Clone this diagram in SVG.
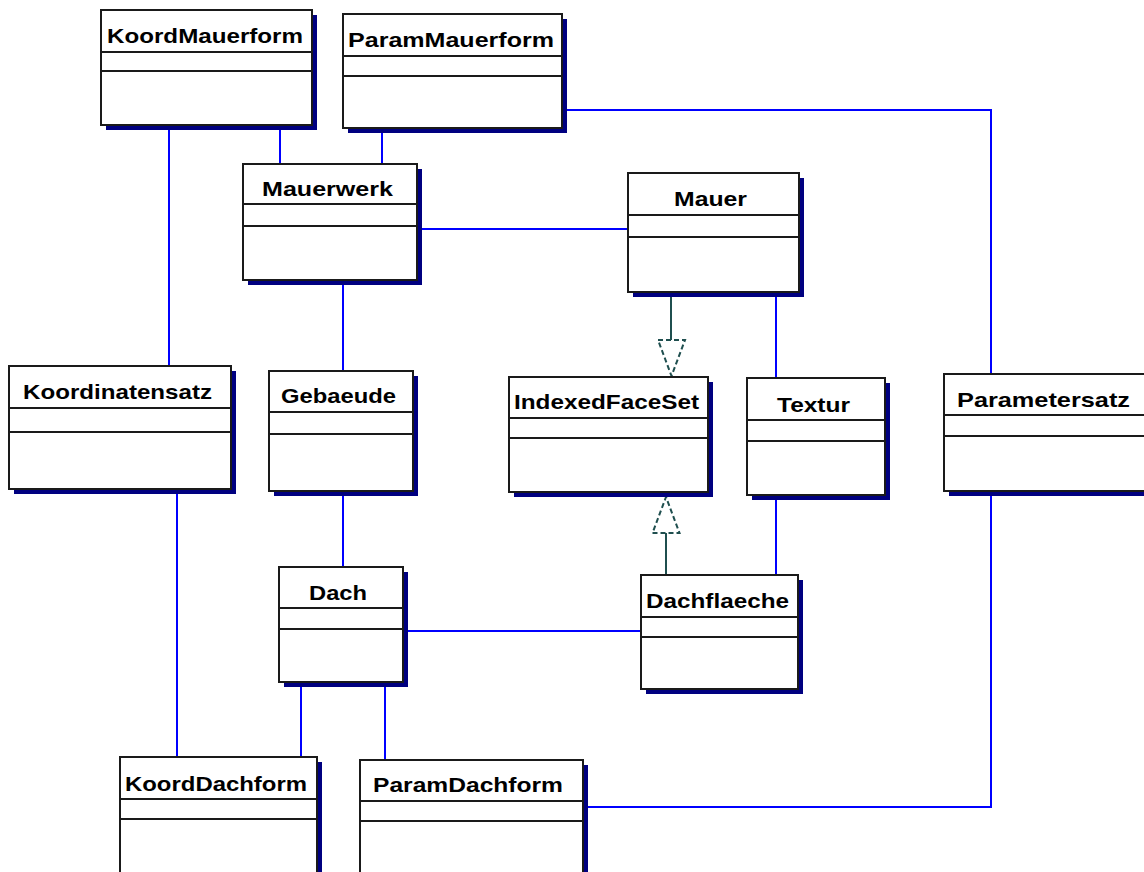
<svg xmlns="http://www.w3.org/2000/svg" width="1144" height="872" viewBox="0 0 1144 872">
<style>
.sh{fill:#000080}
.bx{fill:#fff;stroke:#1a1a1a;stroke-width:2}
.ln{stroke:#1a1a1a;stroke-width:2}
.t{font-family:"Liberation Sans",Arial,sans-serif;font-weight:bold;font-size:21px;fill:#000}
.c{stroke:#0000ff;stroke-width:2;fill:none}
.g{stroke:#1f4f4f;stroke-width:2;fill:none}
.tri{fill:#fff;stroke:#1f4f4f;stroke-width:2;stroke-dasharray:5 3}
</style>
<rect width="1144" height="872" fill="#fff"/>
<g id="connectors">
<line class="c" x1="169" y1="130" x2="169" y2="366"/>
<line class="c" x1="280" y1="130" x2="280" y2="164"/>
<line class="c" x1="382" y1="133" x2="382" y2="164"/>
<polyline class="c" points="567,110 991,110 991,374"/>
<line class="c" x1="422" y1="229" x2="628" y2="229"/>
<line class="c" x1="343" y1="285" x2="343" y2="371"/>
<line class="c" x1="776" y1="297" x2="776" y2="378"/>
<line class="g" x1="671" y1="297" x2="671" y2="340"/>
<polygon class="tri" points="658,340 685,340 671.5,376"/>
<line class="c" x1="177" y1="494" x2="177" y2="757"/>
<line class="c" x1="343" y1="496" x2="343" y2="567"/>
<line class="c" x1="776" y1="500" x2="776" y2="575"/>
<line class="g" x1="666" y1="533" x2="666" y2="575"/>
<polygon class="tri" points="652.5,533 679.5,533 666,497"/>
<line class="c" x1="408" y1="631" x2="641" y2="631"/>
<line class="c" x1="301" y1="687" x2="301" y2="757"/>
<line class="c" x1="385" y1="687" x2="385" y2="760"/>
<polyline class="c" points="588,807 991,807 991,496"/>
</g>
<g id="KoordMauerform">
<rect class="sh" x="106" y="15" width="211" height="115"/>
<rect class="bx" x="101" y="10" width="211" height="115"/>
<line class="ln" x1="101" y1="52" x2="312" y2="52"/>
<line class="ln" x1="101" y1="71" x2="312" y2="71"/>
<text class="t" x="107" y="43" textLength="196" lengthAdjust="spacingAndGlyphs">KoordMauerform</text>
</g>
<g id="ParamMauerform">
<rect class="sh" x="348" y="19" width="219" height="114"/>
<rect class="bx" x="343" y="14" width="219" height="114"/>
<line class="ln" x1="343" y1="56" x2="562" y2="56"/>
<line class="ln" x1="343" y1="76" x2="562" y2="76"/>
<text class="t" x="348" y="47" textLength="206" lengthAdjust="spacingAndGlyphs">ParamMauerform</text>
</g>
<g id="Mauerwerk">
<rect class="sh" x="248" y="169" width="174" height="116"/>
<rect class="bx" x="243" y="164" width="174" height="116"/>
<line class="ln" x1="243" y1="204" x2="417" y2="204"/>
<line class="ln" x1="243" y1="226" x2="417" y2="226"/>
<text class="t" x="262" y="196" textLength="131" lengthAdjust="spacingAndGlyphs">Mauerwerk</text>
</g>
<g id="Mauer">
<rect class="sh" x="633" y="178" width="171" height="119"/>
<rect class="bx" x="628" y="173" width="171" height="119"/>
<line class="ln" x1="628" y1="215" x2="799" y2="215"/>
<line class="ln" x1="628" y1="237" x2="799" y2="237"/>
<text class="t" x="674" y="206" textLength="73" lengthAdjust="spacingAndGlyphs">Mauer</text>
</g>
<g id="Koordinatensatz">
<rect class="sh" x="14" y="371" width="222" height="123"/>
<rect class="bx" x="9" y="366" width="222" height="123"/>
<line class="ln" x1="9" y1="408" x2="231" y2="408"/>
<line class="ln" x1="9" y1="432" x2="231" y2="432"/>
<text class="t" x="23" y="399" textLength="189" lengthAdjust="spacingAndGlyphs">Koordinatensatz</text>
</g>
<g id="Gebaeude">
<rect class="sh" x="274" y="376" width="144" height="120"/>
<rect class="bx" x="269" y="371" width="144" height="120"/>
<line class="ln" x1="269" y1="412" x2="413" y2="412"/>
<line class="ln" x1="269" y1="434" x2="413" y2="434"/>
<text class="t" x="281" y="403" textLength="115" lengthAdjust="spacingAndGlyphs">Gebaeude</text>
</g>
<g id="IndexedFaceSet">
<rect class="sh" x="514" y="382" width="199" height="115"/>
<rect class="bx" x="509" y="377" width="199" height="115"/>
<line class="ln" x1="509" y1="418" x2="708" y2="418"/>
<line class="ln" x1="509" y1="438" x2="708" y2="438"/>
<text class="t" x="514" y="409" textLength="185" lengthAdjust="spacingAndGlyphs">IndexedFaceSet</text>
</g>
<g id="Textur">
<rect class="sh" x="752" y="383" width="138" height="117"/>
<rect class="bx" x="747" y="378" width="138" height="117"/>
<line class="ln" x1="747" y1="420" x2="885" y2="420"/>
<line class="ln" x1="747" y1="441" x2="885" y2="441"/>
<text class="t" x="777" y="412" textLength="73" lengthAdjust="spacingAndGlyphs">Textur</text>
</g>
<g id="Parametersatz">
<rect class="sh" x="949" y="379" width="200" height="117"/>
<rect class="bx" x="944" y="374" width="205" height="117"/>
<line class="ln" x1="944" y1="415" x2="1144" y2="415"/>
<line class="ln" x1="944" y1="436" x2="1144" y2="436"/>
<text class="t" x="957" y="407" textLength="173" lengthAdjust="spacingAndGlyphs">Parametersatz</text>
</g>
<g id="Dach">
<rect class="sh" x="284" y="572" width="124" height="115"/>
<rect class="bx" x="279" y="567" width="124" height="115"/>
<line class="ln" x1="279" y1="608" x2="403" y2="608"/>
<line class="ln" x1="279" y1="629" x2="403" y2="629"/>
<text class="t" x="309" y="600" textLength="58" lengthAdjust="spacingAndGlyphs">Dach</text>
</g>
<g id="Dachflaeche">
<rect class="sh" x="646" y="580" width="157" height="114"/>
<rect class="bx" x="641" y="575" width="157" height="114"/>
<line class="ln" x1="641" y1="617" x2="798" y2="617"/>
<line class="ln" x1="641" y1="637" x2="798" y2="637"/>
<text class="t" x="646" y="608" textLength="143" lengthAdjust="spacingAndGlyphs">Dachflaeche</text>
</g>
<g id="KoordDachform">
<rect class="sh" x="125" y="762" width="197" height="120"/>
<rect class="bx" x="120" y="757" width="197" height="120"/>
<line class="ln" x1="120" y1="799" x2="317" y2="799"/>
<line class="ln" x1="120" y1="819" x2="317" y2="819"/>
<text class="t" x="125" y="791" textLength="182" lengthAdjust="spacingAndGlyphs">KoordDachform</text>
</g>
<g id="ParamDachform">
<rect class="sh" x="365" y="765" width="223" height="120"/>
<rect class="bx" x="360" y="760" width="223" height="120"/>
<line class="ln" x1="360" y1="801" x2="583" y2="801"/>
<line class="ln" x1="360" y1="821" x2="583" y2="821"/>
<text class="t" x="373" y="792" textLength="190" lengthAdjust="spacingAndGlyphs">ParamDachform</text>
</g>
</svg>
